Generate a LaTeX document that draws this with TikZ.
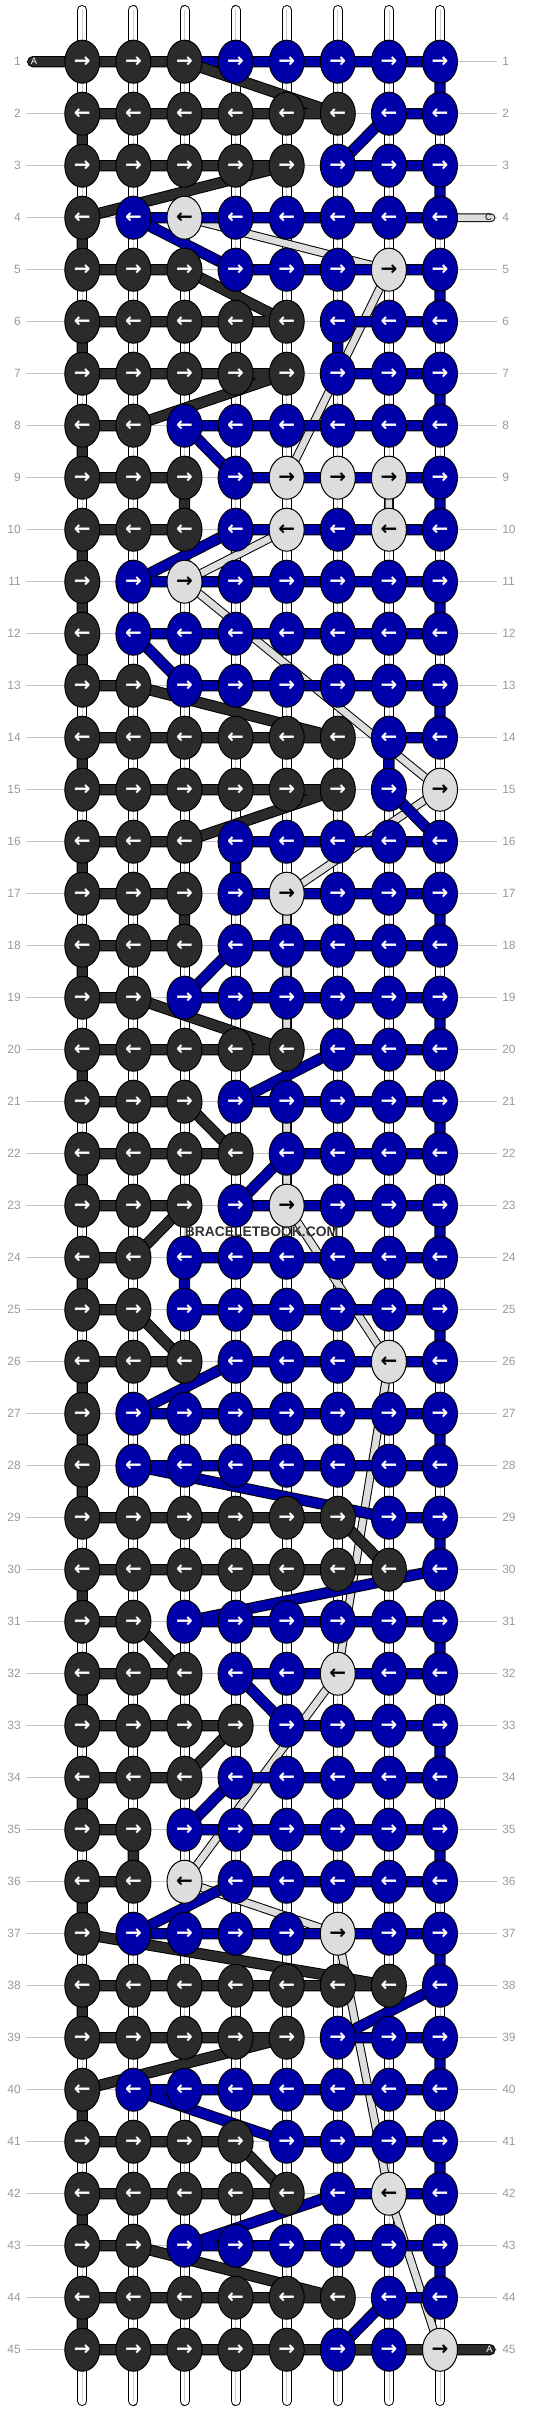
\documentclass[tikz,border=0pt]{standalone}
\usepackage{fontspec}
\setmainfont{Liberation Sans}
\newfontfamily\arrowfont{DejaVu Sans}
\usetikzlibrary{shapes.geometric}

\definecolor{threaddark}{HTML}{2B2B2B}
\definecolor{threadblue}{HTML}{0000AA}
\definecolor{threadlight}{HTML}{DDDDDD}
\definecolor{guidegray}{HTML}{C4C4C4}
\definecolor{labelgray}{HTML}{9A9A9A}

\tikzset{
  knot/.style={ellipse, draw=black, line width=0.75pt, minimum width=26.25pt,
    minimum height=32.25pt, inner sep=0pt, font=\arrowfont\bfseries\fontsize{15}{15}\selectfont},
  knotD/.style={knot, fill=threaddark, text=white},
  knotB/.style={knot, fill=threadblue, text=white},
  knotL/.style={knot, fill=threadlight, text=black},
  thread/.style={line width=0.75pt, line cap=round, line join=round},
  threadD/.style={thread, double=threaddark, double distance=7pt},
  threadB/.style={thread, double=threadblue, double distance=7pt},
  threadL/.style={thread, double=threadlight, double distance=5pt},
  basestring/.style={line width=0.75pt, double=white, double distance=6pt, line cap=round},
  rownum/.style={text=labelgray, font=\fontsize{9}{9}\selectfont, inner sep=0pt},
  endtag/.style={font=\fontsize{7}{7}\selectfont, inner sep=0pt},
}

\newcommand\knotat[3]{\node[knot#3] (k-#1-#2) at (p-#1-#2) {\ifodd#1 →\else ←\fi};}
\newcommand\knotrow[9]{\knotat{#1}{1}{#2}\knotat{#1}{2}{#3}\knotat{#1}{3}{#4}\knotat{#1}{4}{#5}%
  \knotat{#1}{5}{#6}\knotat{#1}{6}{#7}\knotat{#1}{7}{#8}\knotat{#1}{8}{#9}}

\begin{document}
\begin{tikzpicture}[x=0.75pt, y=-0.75pt]
  \useasboundingbox (0,0) rectangle (532,2412);

  \foreach \r in {1,...,45}
    \foreach \c in {1,...,8}
      \coordinate (p-\r-\c) at ({82.3+51.1*(\c-1)},{61.7+52*(\r-1)});

  \foreach \r in {1,...,45} {
    \pgfmathsetmacro\rowy{61.7+52*(\r-1)}
    \draw[guidegray, line width=0.75pt] (26,\rowy) -- (497,\rowy);
    \node[rownum, anchor=east] (num-l-\r) at (21,\rowy) {\r};
    \node[rownum, anchor=west] (num-r-\r) at (502,\rowy) {\r};
  }

  \foreach \c in {1,...,8} {
    \coordinate (top-\c) at ({82.3+51.1*(\c-1)},10);
    \coordinate (bot-\c) at ({82.3+51.1*(\c-1)},2401);
    \draw[basestring] (top-\c) -- (bot-\c);
    \draw[gray!40, line width=0.5pt] (top-\c) -- (bot-\c);
  }

  \coordinate (a-in) at (32.7,61.7);
  \coordinate (a-out) at (490,2349.7);
  \coordinate (c-in) at (491,217.7);

  % thread C
  \draw[threadL] (c-in) -- (p-4-3) -- (p-5-7) -- (p-9-5) -- (p-9-7) -- (p-10-7) -- (p-10-5)
    -- (p-11-3) -- (p-15-8) -- (p-17-5) -- (p-23-5) -- (p-26-7) -- (p-32-6) -- (p-36-3)
    -- (p-37-6) -- (p-42-7) -- (p-45-8);

  % thread B
  \draw[threadB] (p-1-3) -- (p-1-8) -- (p-2-8) -- (p-2-7) -- (p-3-6) -- (p-3-8) -- (p-4-8)
    -- (p-4-2) -- (p-5-4) -- (p-5-8) -- (p-6-8) -- (p-6-6) -- (p-7-6) -- (p-7-8) -- (p-8-8)
    -- (p-8-3) -- (p-9-4) -- (p-9-8) -- (p-10-8) -- (p-10-4) -- (p-11-2) -- (p-11-8)
    -- (p-12-8) -- (p-12-2) -- (p-13-3) -- (p-13-8) -- (p-14-8) -- (p-14-7) -- (p-15-7)
    -- (p-16-8) -- (p-16-4) -- (p-17-4) -- (p-17-8) -- (p-18-8) -- (p-18-4) -- (p-19-3)
    -- (p-19-8) -- (p-20-8) -- (p-20-6) -- (p-21-4) -- (p-21-8) -- (p-22-8) -- (p-22-5)
    -- (p-23-4) -- (p-23-8) -- (p-24-8) -- (p-24-3) -- (p-25-3) -- (p-25-8) -- (p-26-8)
    -- (p-26-4) -- (p-27-2) -- (p-27-8) -- (p-28-8) -- (p-28-2) -- (p-29-7) -- (p-29-8)
    -- (p-30-8) -- (p-31-3) -- (p-31-8) -- (p-32-8) -- (p-32-4) -- (p-33-5) -- (p-33-8)
    -- (p-34-8) -- (p-34-4) -- (p-35-3) -- (p-35-8) -- (p-36-8) -- (p-36-4) -- (p-37-2)
    -- (p-37-8) -- (p-38-8) -- (p-39-6) -- (p-39-8) -- (p-40-8) -- (p-40-2) -- (p-41-5)
    -- (p-41-8) -- (p-42-8) -- (p-42-6) -- (p-43-3) -- (p-43-8) -- (p-44-8) -- (p-44-7)
    -- (p-45-6) -- (p-45-7);

  % thread A
  \draw[threadD] (a-in) -- (p-1-3) -- (p-2-6) -- (p-2-1) -- (p-3-1) -- (p-3-5) -- (p-4-1)
    -- (p-5-1) -- (p-5-3) -- (p-6-5) -- (p-6-1) -- (p-7-1) -- (p-7-5) -- (p-8-2) -- (p-8-1)
    -- (p-9-1) -- (p-9-3) -- (p-10-3) -- (p-10-1) -- (p-13-1) -- (p-13-2) -- (p-14-6)
    -- (p-14-1) -- (p-15-1) -- (p-15-6) -- (p-16-3) -- (p-16-1) -- (p-17-1) -- (p-17-3)
    -- (p-18-3) -- (p-18-1) -- (p-19-1) -- (p-19-2) -- (p-20-5) -- (p-20-1) -- (p-21-1)
    -- (p-21-3) -- (p-22-4) -- (p-22-1) -- (p-23-1) -- (p-23-3) -- (p-24-2) -- (p-24-1)
    -- (p-25-1) -- (p-25-2) -- (p-26-3) -- (p-26-1) -- (p-29-1) -- (p-29-6) -- (p-30-7)
    -- (p-30-1) -- (p-31-1) -- (p-31-2) -- (p-32-3) -- (p-32-1) -- (p-33-1) -- (p-33-4)
    -- (p-34-3) -- (p-34-1) -- (p-35-1) -- (p-35-2) -- (p-36-2) -- (p-36-1) -- (p-37-1)
    -- (p-38-7) -- (p-38-1) -- (p-39-1) -- (p-39-5) -- (p-40-1) -- (p-41-1) -- (p-41-4)
    -- (p-42-5) -- (p-42-1) -- (p-43-1) -- (p-43-2) -- (p-44-6) -- (p-44-1) -- (p-45-1)
    -- (a-out);

  \node[endtag, text=white] (tag-a-in) at (34,61.7) {A};
  \node[endtag, text=black] (tag-c-in) at (488.5,217.7) {C};
  \node[endtag, text=white] (tag-a-out) at (489.5,2349.7) {A};

  \foreach \r/\knots in {1/DDDBBBBB, 2/DDDDDDBB, 3/DDDDDBBB, 4/DBLBBBBB, 5/DDDBBBLB,
      6/DDDDDBBB, 7/DDDDDBBB, 8/DDBBBBBB, 9/DDDBLLLB, 10/DDDBLBLB,
      11/DBLBBBBB, 12/DBBBBBBB, 13/DDBBBBBB, 14/DDDDDDBB, 15/DDDDDDBL,
      16/DDDBBBBB, 17/DDDBLBBB, 18/DDDBBBBB, 19/DDBBBBBB, 20/DDDDDBBB,
      21/DDDBBBBB, 22/DDDDBBBB, 23/DDDBLBBB, 24/DDBBBBBB, 25/DDBBBBBB,
      26/DDDBBBLB, 27/DBBBBBBB, 28/DBBBBBBB, 29/DDDDDDBB, 30/DDDDDDDB,
      31/DDBBBBBB, 32/DDDBBLBB, 33/DDDDBBBB, 34/DDDBBBBB, 35/DDBBBBBB,
      36/DDLBBBBB, 37/DBBBBLBB, 38/DDDDDDDB, 39/DDDDDBBB, 40/DBBBBBBB,
      41/DDDDBBBB, 42/DDDDDBLB, 43/DDBBBBBB, 44/DDDDDDBB, 45/DDDDDBBL}
    {\edef\tmp{\noexpand\knotrow{\r}\knots}\tmp}

  \node[font=\bfseries\fontsize{10.4}{10.4}\selectfont, text=black!80, inner sep=0pt]
    (watermark) at (261.5,1231.3) {BRACELETBOOK.COM};
\end{tikzpicture}
\end{document}
